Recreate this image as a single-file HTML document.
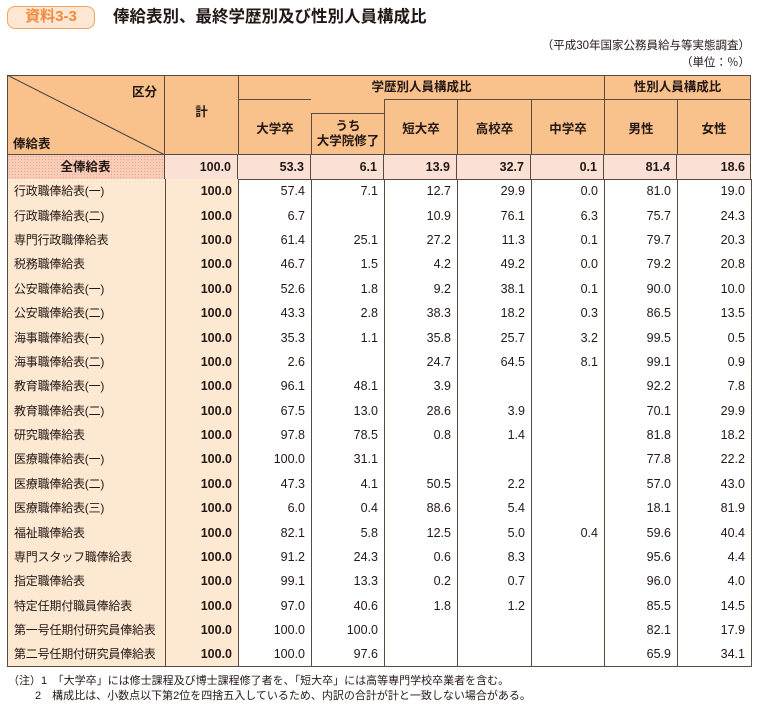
<!DOCTYPE html>
<html><head><meta charset="utf-8">
<style>
*{margin:0;padding:0;box-sizing:border-box}
body{width:760px;height:710px;background:#fff;position:relative;font-family:"Liberation Sans","Noto Sans CJK JP",sans-serif;color:#231815;overflow:hidden}
.a{position:absolute}
.badge{left:7px;top:6px;width:88px;height:23px;border:1.5px solid #f2a463;border-radius:8px;background:#fde6d2;color:#ef8a3c;font-size:15px;text-align:center;line-height:20px;font-weight:bold}
.title{left:113px;top:6px;font-size:16.5px;font-weight:bold;line-height:22px}
.src{right:10px;font-size:11.5px;line-height:14px}
.h{background:#f9c18b;font-size:12.5px;font-weight:bold;display:flex;align-items:center;justify-content:center;text-align:center;line-height:15px}
table{position:absolute;left:7px;top:179px;width:744px;border-collapse:collapse;table-layout:fixed;font-size:12.5px}
td{height:24.4px;padding:0 6px 0 0;text-align:right;vertical-align:middle;line-height:24px;border-left:1px solid #5a4a40;border-right:1px solid #5a4a40;white-space:nowrap;overflow:hidden}
td.n{text-align:left;padding-left:6px;background:#fde8d2;font-size:12px;letter-spacing:-0.2px}
td.k{background:#fde8d2;font-weight:bold}
.note{left:8px;font-size:11px;line-height:13px}
</style></head><body>
<div class="a badge">資料3-3</div>
<div class="a title">俸給表別、最終学歴別及び性別人員構成比</div>
<div class="a src" style="top:39px">（平成30年国家公務員給与等実態調査）</div>
<div class="a src" style="top:56px">（単位：％）</div>

<div class="a h" style="left:7px;top:75px;width:158px;height:80px;border:1px solid #5a4a40"></div>
<svg class="a" style="left:7px;top:75px" width="158" height="80"><line x1="0" y1="0" x2="158" y2="80" stroke="#3a3a3a" stroke-width="1"/></svg>
<div class="a" style="left:132px;top:81px;font-size:12.5px;font-weight:bold">区分</div>
<div class="a" style="left:13px;top:133px;font-size:12.5px;font-weight:bold">俸給表</div>
<div class="a h" style="left:164px;top:75px;width:75px;height:80px;border:1px solid #5a4a40;padding-bottom:6px">計</div>
<div class="a h" style="left:238px;top:75px;width:367px;height:25px;border:1px solid #5a4a40">学歴別人員構成比</div>
<div class="a h" style="left:604px;top:75px;width:147px;height:25px;border:1px solid #5a4a40">性別人員構成比</div>
<div class="a h" style="left:238px;top:99px;width:74px;height:56px;border:1px solid #5a4a40;padding-top:4px">大学卒</div>
<div class="a h" style="left:311px;top:99px;width:74px;height:56px;border-right:1px solid #5a4a40;border-bottom:1px solid #5a4a40"></div>
<div class="a h" style="left:311px;top:113px;width:74px;height:42px;border:1px solid #5a4a40;flex-direction:column">うち<br>大学院修了</div>
<div class="a h" style="left:384px;top:99px;width:74px;height:56px;border:1px solid #5a4a40;padding-top:4px">短大卒</div>
<div class="a h" style="left:457px;top:99px;width:75px;height:56px;border:1px solid #5a4a40;padding-top:4px">高校卒</div>
<div class="a h" style="left:531px;top:99px;width:74px;height:56px;border:1px solid #5a4a40;padding-top:4px">中学卒</div>
<div class="a h" style="left:604px;top:99px;width:74px;height:56px;border:1px solid #5a4a40;padding-top:4px">男性</div>
<div class="a h" style="left:677px;top:99px;width:74px;height:56px;border:1px solid #5a4a40;padding-top:4px">女性</div>

<div class="a" style="left:7px;top:154px;width:744px;height:26px;border:1px solid #5a4a40;background:#fbe0d5"></div>
<div class="a" style="left:8px;top:155px;width:156px;height:24px;background:#f9cdb8;background-image:radial-gradient(#e9a58e 0.6px,transparent 0.8px);background-size:3px 3px"></div>
<div class="a" style="left:7px;top:155px;width:744px;height:24px;display:flex;font-size:12.5px;font-weight:bold;line-height:24px">
<div style="width:158px;text-align:center;border-right:1px solid #5a4a40">全俸給表</div>
<div style="width:73px;text-align:right;padding-right:6px;border-right:1px solid #5a4a40">100.0</div>
<div style="width:73px;text-align:right;padding-right:6px;border-right:1px solid #5a4a40">53.3</div>
<div style="width:73px;text-align:right;padding-right:6px;border-right:1px solid #5a4a40">6.1</div>
<div style="width:73px;text-align:right;padding-right:6px;border-right:1px solid #5a4a40">13.9</div>
<div style="width:74px;text-align:right;padding-right:6px;border-right:1px solid #5a4a40">32.7</div>
<div style="width:73px;text-align:right;padding-right:6px;border-right:1px solid #5a4a40">0.1</div>
<div style="width:73px;text-align:right;padding-right:6px;border-right:1px solid #5a4a40">81.4</div>
<div style="width:74px;text-align:right;padding-right:6px">18.6</div>
</div>

<table style="border-bottom:1px solid #5a4a40">
<colgroup><col style="width:158px"><col style="width:73px"><col style="width:73px"><col style="width:73px"><col style="width:73px"><col style="width:74px"><col style="width:73px"><col style="width:73px"><col style="width:74px"></colgroup>
<tr><td class="n">行政職俸給表(一)</td><td class="k">100.0</td><td>57.4</td><td>7.1</td><td>12.7</td><td>29.9</td><td>0.0</td><td>81.0</td><td>19.0</td></tr>
<tr><td class="n">行政職俸給表(二)</td><td class="k">100.0</td><td>6.7</td><td></td><td>10.9</td><td>76.1</td><td>6.3</td><td>75.7</td><td>24.3</td></tr>
<tr><td class="n">専門行政職俸給表</td><td class="k">100.0</td><td>61.4</td><td>25.1</td><td>27.2</td><td>11.3</td><td>0.1</td><td>79.7</td><td>20.3</td></tr>
<tr><td class="n">税務職俸給表</td><td class="k">100.0</td><td>46.7</td><td>1.5</td><td>4.2</td><td>49.2</td><td>0.0</td><td>79.2</td><td>20.8</td></tr>
<tr><td class="n">公安職俸給表(一)</td><td class="k">100.0</td><td>52.6</td><td>1.8</td><td>9.2</td><td>38.1</td><td>0.1</td><td>90.0</td><td>10.0</td></tr>
<tr><td class="n">公安職俸給表(二)</td><td class="k">100.0</td><td>43.3</td><td>2.8</td><td>38.3</td><td>18.2</td><td>0.3</td><td>86.5</td><td>13.5</td></tr>
<tr><td class="n">海事職俸給表(一)</td><td class="k">100.0</td><td>35.3</td><td>1.1</td><td>35.8</td><td>25.7</td><td>3.2</td><td>99.5</td><td>0.5</td></tr>
<tr><td class="n">海事職俸給表(二)</td><td class="k">100.0</td><td>2.6</td><td></td><td>24.7</td><td>64.5</td><td>8.1</td><td>99.1</td><td>0.9</td></tr>
<tr><td class="n">教育職俸給表(一)</td><td class="k">100.0</td><td>96.1</td><td>48.1</td><td>3.9</td><td></td><td></td><td>92.2</td><td>7.8</td></tr>
<tr><td class="n">教育職俸給表(二)</td><td class="k">100.0</td><td>67.5</td><td>13.0</td><td>28.6</td><td>3.9</td><td></td><td>70.1</td><td>29.9</td></tr>
<tr><td class="n">研究職俸給表</td><td class="k">100.0</td><td>97.8</td><td>78.5</td><td>0.8</td><td>1.4</td><td></td><td>81.8</td><td>18.2</td></tr>
<tr><td class="n">医療職俸給表(一)</td><td class="k">100.0</td><td>100.0</td><td>31.1</td><td></td><td></td><td></td><td>77.8</td><td>22.2</td></tr>
<tr><td class="n">医療職俸給表(二)</td><td class="k">100.0</td><td>47.3</td><td>4.1</td><td>50.5</td><td>2.2</td><td></td><td>57.0</td><td>43.0</td></tr>
<tr><td class="n">医療職俸給表(三)</td><td class="k">100.0</td><td>6.0</td><td>0.4</td><td>88.6</td><td>5.4</td><td></td><td>18.1</td><td>81.9</td></tr>
<tr><td class="n">福祉職俸給表</td><td class="k">100.0</td><td>82.1</td><td>5.8</td><td>12.5</td><td>5.0</td><td>0.4</td><td>59.6</td><td>40.4</td></tr>
<tr><td class="n">専門スタッフ職俸給表</td><td class="k">100.0</td><td>91.2</td><td>24.3</td><td>0.6</td><td>8.3</td><td></td><td>95.6</td><td>4.4</td></tr>
<tr><td class="n">指定職俸給表</td><td class="k">100.0</td><td>99.1</td><td>13.3</td><td>0.2</td><td>0.7</td><td></td><td>96.0</td><td>4.0</td></tr>
<tr><td class="n">特定任期付職員俸給表</td><td class="k">100.0</td><td>97.0</td><td>40.6</td><td>1.8</td><td>1.2</td><td></td><td>85.5</td><td>14.5</td></tr>
<tr><td class="n">第一号任期付研究員俸給表</td><td class="k">100.0</td><td>100.0</td><td>100.0</td><td></td><td></td><td></td><td>82.1</td><td>17.9</td></tr>
<tr><td class="n">第二号任期付研究員俸給表</td><td class="k">100.0</td><td>100.0</td><td>97.6</td><td></td><td></td><td></td><td>65.9</td><td>34.1</td></tr>
</table>

<div class="a note" style="top:675px">（注）1　「大学卒」には修士課程及び博士課程修了者を、「短大卒」には高等専門学校卒業者を含む。</div>
<div class="a note" style="top:690px;left:35px">2　構成比は、小数点以下第2位を四捨五入しているため、内訳の合計が計と一致しない場合がある。</div>
</body></html>
